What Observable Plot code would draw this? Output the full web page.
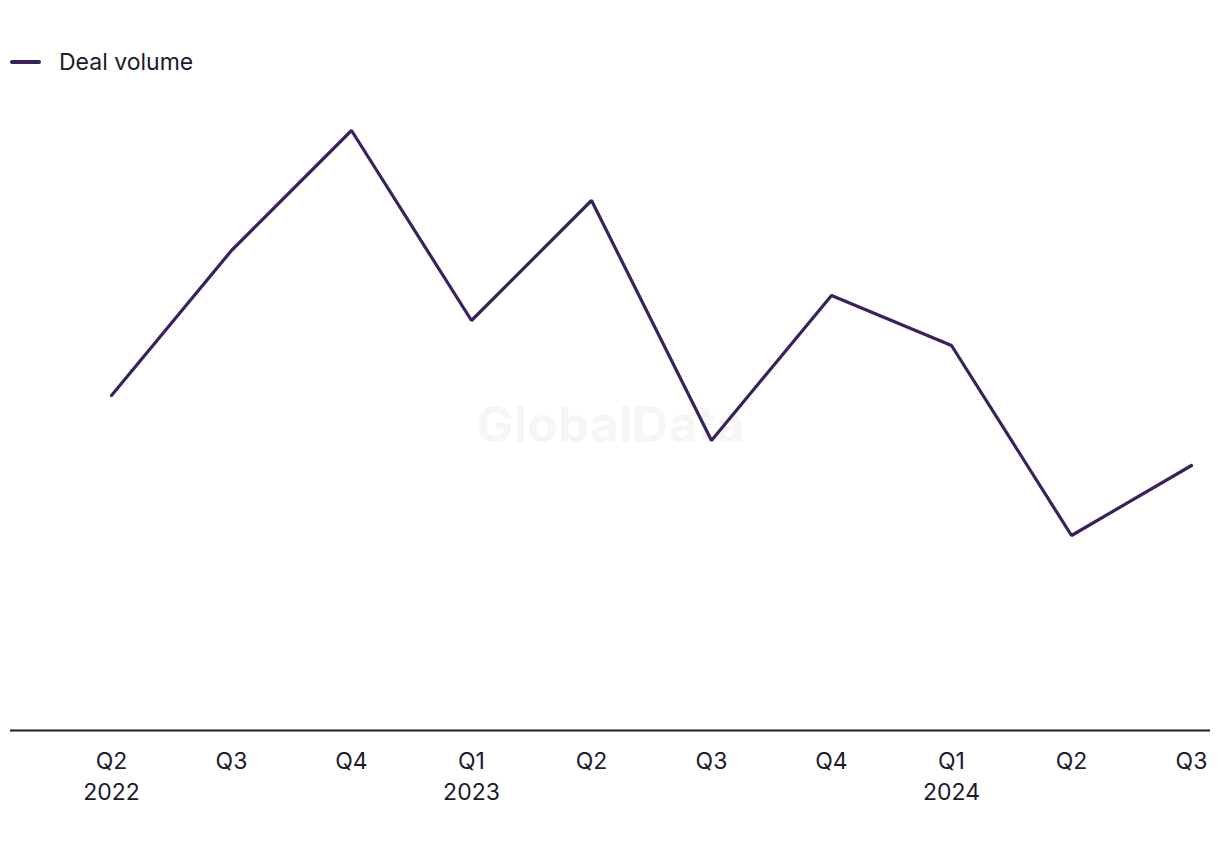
<!DOCTYPE html>
<html>
<head>
<meta charset="utf-8">
<script src="https://cdn.jsdelivr.net/npm/d3@7"></script>
<script src="https://cdn.jsdelivr.net/npm/@observablehq/plot@0.6"></script>
<style>
  html, body { margin: 0; padding: 0; background: #fff; }
  body { width: 1220px; height: 850px; overflow: hidden; font-family: Inter, "Liberation Sans", Arial, sans-serif; color: #1c1a2b; }
  #legend { height: 100px; position: relative; }
  #legend .item { position: absolute; left: 10px; top: 48px; display: flex; align-items: center; font-size: 23px; line-height: 28px; }
  #legend .sw { width: 31px; height: 4px; background: #3b2060; margin-right: 18px; border-radius: 2px; }
</style>
</head>
<body>
<div id="legend"><div class="item"><span class="sw"></span><span>Deal volume</span></div></div>
<div id="chart"></div>
<script>
const quarters = ["Q2","Q3","Q4","Q1","Q2","Q3","Q4","Q1","Q2","Q3"];
const years    = ["2022","","","2023","","","","2024","",""];
const dealVolume = [67, 96, 120, 82, 106, 58, 87, 77, 39, 53];

const keys = quarters.map((q, i) => `${q} ${years[i] || ""}`.trim() + "#" + i);
const data = keys.map((k, i) => ({key: k, value: dealVolume[i]}));
const labelOf = new Map(keys.map((k, i) => [k, years[i] ? `${quarters[i]}\n${years[i]}` : quarters[i]]));

const chart = Plot.plot({
  width: 1220,
  height: 750,
  marginLeft: 10,
  marginRight: 10,
  marginTop: 5,
  marginBottom: 120,
  style: {fontFamily: "Inter, Liberation Sans, Arial, sans-serif", fontSize: "23px", color: "#1c1a2b", background: "#fff"},
  x: {type: "point", domain: keys, range: [110, 1192], padding: 0},
  y: {domain: [0, 125], axis: null},
  marks: [
    Plot.text(["GlobalData"], {frameAnchor: "middle", dy: 8, fontSize: 50, fontWeight: "bold", fill: "#f6f6f6"}),
    Plot.ruleY([0], {stroke: "#1c1a2b", strokeWidth: 2}),
    Plot.line(data, {x: "key", y: "value", stroke: "#3b2060", strokeWidth: 3.2, strokeLinejoin: "miter"}),
    Plot.axisX({tickSize: 0, tickPadding: 16, tickFormat: d => labelOf.get(d), fontSize: 23, lineHeight: 1.35, fill: "#1c1a2b", label: null})
  ]
});
document.getElementById("chart").appendChild(chart);
</script>
</body>
</html>
